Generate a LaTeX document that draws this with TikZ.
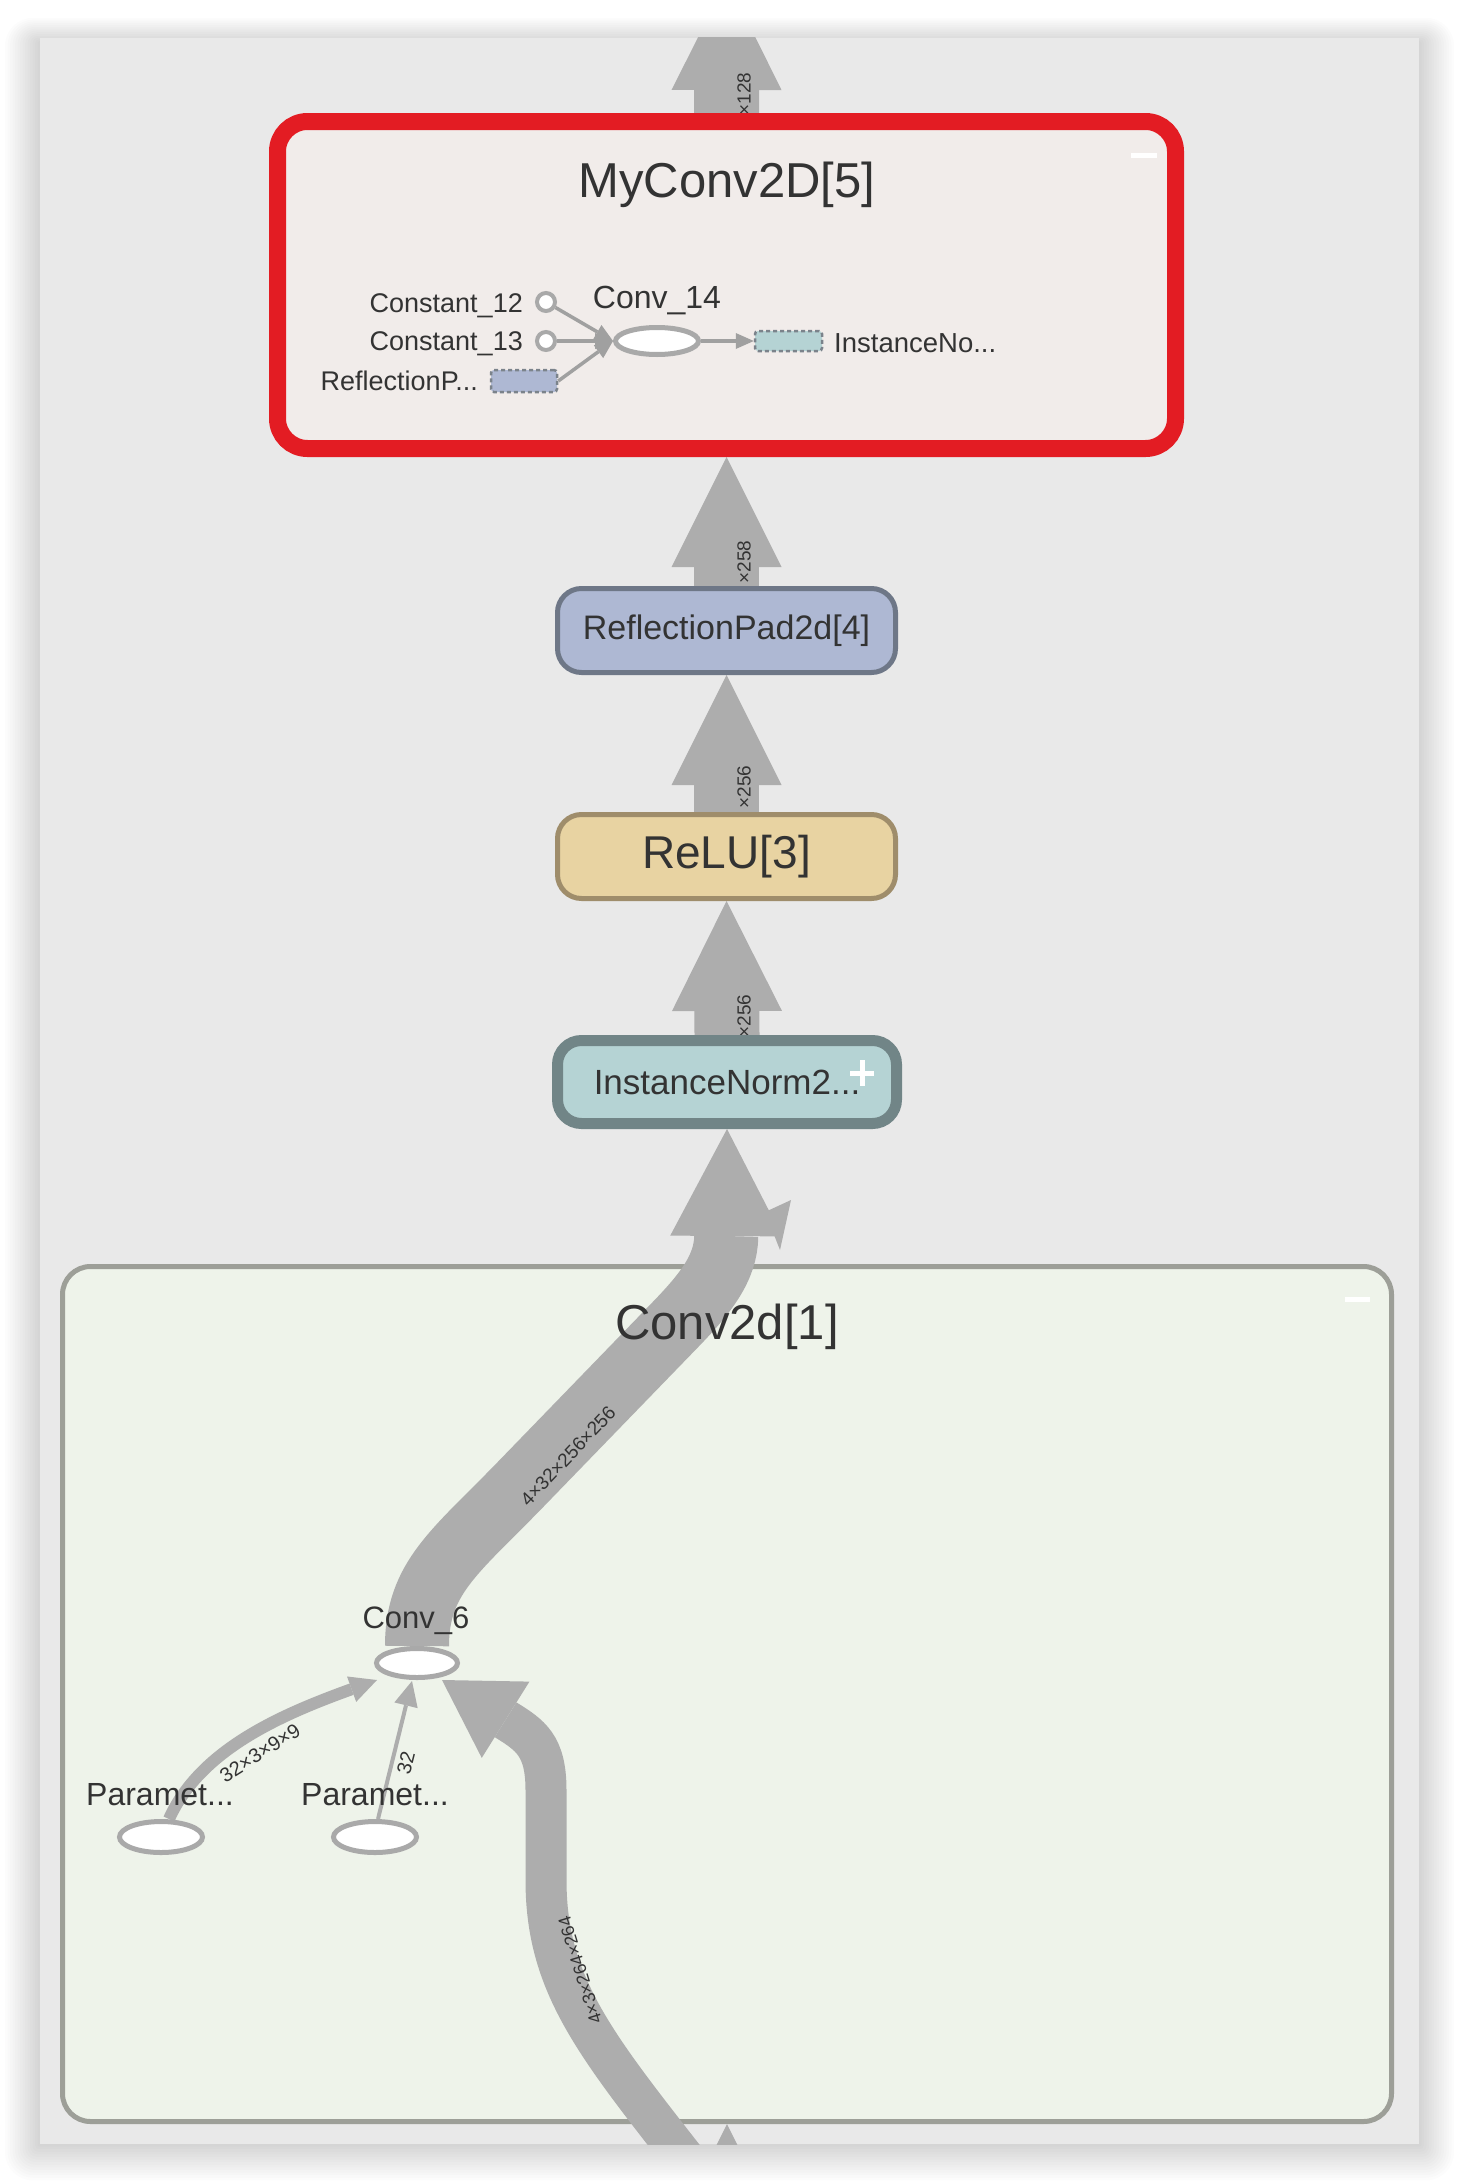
\documentclass[tikz,border=0pt]{standalone}
\usepackage{fontspec}
\setmainfont{Liberation Sans}
\usetikzlibrary{arrows.meta,shapes.geometric}
\pgfdeclarelayer{bg}
\pgfdeclarelayer{edges}
\pgfsetlayers{bg,edges,main}
\definecolor{panelc}{HTML}{E9E9E9}
\definecolor{edgec}{HTML}{ADADAD}
\definecolor{txtc}{HTML}{333333}
\definecolor{redc}{HTML}{E31C23}
\definecolor{myf}{HTML}{F1ECEA}
\definecolor{reflf}{HTML}{AEB8D3}
\definecolor{reflb}{HTML}{6E7787}
\definecolor{reluf}{HTML}{E8D3A2}
\definecolor{relub}{HTML}{9F8D6B}
\definecolor{inf}{HTML}{B5D3D4}
\definecolor{inb}{HTML}{718587}
\definecolor{convf}{HTML}{EEF3EA}
\definecolor{convb}{HTML}{9D9F98}
\definecolor{ellb}{HTML}{A9A9A9}
\definecolor{dashb}{HTML}{7B838B}
\definecolor{thinc}{HTML}{A0A0A0}
\tikzset{
  lab/.style={text=txtc, inner sep=0pt, font=\fontsize{#1}{#1}\selectfont},
  elab/.style={text=txtc, inner sep=0pt, font=\fontsize{#1}{#1}\selectfont},
  modbox/.style={rectangle, rounded corners=24pt, minimum width=338pt, minimum height=84pt, inner sep=0pt, line width=5pt, text=txtc},
  opnode/.style={ellipse, draw=ellb, fill=white, line width=5pt, inner sep=0pt},
  constnode/.style={circle, draw=ellb, fill=white, line width=4pt, minimum size=18pt, inner sep=0pt},
  dashnode/.style={rectangle, draw=dashb, line width=2.5pt, dash pattern=on 4pt off 3pt, minimum width=66pt, minimum height=22pt, inner sep=0pt, rounded corners=3pt},
  bigarrow/.style={draw=edgec, line width=65pt, -{Triangle[length=110pt,width=110pt,line width=0pt]}},
  conn/.style={draw=edgec, line width=#1},
  inconn/.style={draw=thinc, line width=3.5pt, -{Triangle[length=18pt,width=16pt,line width=0pt]}},
}
\begin{document}
\begin{tikzpicture}[x=1pt,y=-1pt]
\useasboundingbox (0,0) rectangle (1457,2184);
% ---------- background ----------
\begin{pgfonlayer}{bg}
  \fill[white] (0,0) rectangle (1457,2184);
  \foreach \i in {1,...,14} {
    \fill[black, opacity=0.010, rounded corners=2*\i pt] (40-2.5*\i, 38-1.8*\i+5) rectangle (1419+2.5*\i, 2144+2.6*\i);
  }
  \fill[panelc] (40,38) rectangle (1419,2144);
  \node[rectangle, draw=convb, fill=convf, line width=5pt, rounded corners=28pt,
        minimum width=1329pt, minimum height=855pt, inner sep=0pt] (cbox) at (727,1694) {};
\end{pgfonlayer}

% ---------- MyConv2D[5] ----------
\node[rectangle, draw=redc, fill=myf, line width=17pt, rounded corners=30pt,
      minimum width=898pt, minimum height=327pt, inner sep=0pt] (myconv) at (726.5,285) {};
\node[lab=49, anchor=base] (mytitle) at (727,197) {MyConv2D[5]};
\fill[white] (1131,153) rectangle (1157,158);

\node[constnode] (c12) at (546,302) {};
\node[constnode] (c13) at (546,341) {};
\node[dashnode, fill=reflf] (rp) at (524,381) {};
\node[opnode, minimum width=83pt, minimum height=27pt] (c14) at (657,341) {};
\node[dashnode, fill=inf, minimum width=67pt, minimum height=20pt] (inn) at (788.5,341) {};
\node[lab=27, anchor=base east] (c12l) at (523,312) {Constant\_12};
\node[lab=27, anchor=base east] (c13l) at (523,350) {Constant\_13};
\node[lab=27, anchor=base east] (rpl) at (478,390) {ReflectionP...};
\node[lab=32, anchor=base] (c14l) at (657,308) {Conv\_14};
\node[lab=27.5, anchor=base west] (innl) at (834,352) {InstanceNo...};
\draw[inconn] (c12) -- (c14.west);
\draw[inconn] (c13) -- (c14.west);
\draw[inconn] (rp.east) -- (c14.west);
\draw[inconn] (c14.east) -- (inn.west);

% ---------- chain nodes ----------
\node[modbox, draw=reflb, fill=reflf, font=\fontsize{34}{34}\selectfont] (refl) at (726.5,630.5) {ReflectionPad2d[4]};
\node[modbox, draw=relub, fill=reluf, font=\fontsize{46}{46}\selectfont] (relu) at (726.5,856.5) {ReLU[3]};
\node[modbox, draw=inb, fill=inf, line width=11pt, minimum width=339pt, minimum height=83pt, font=\fontsize{35}{35}\selectfont] (inorm) at (727,1082) {InstanceNorm2...};
\fill[white] (850,1070.5) rectangle (874,1075.5);
\fill[white] (859.5,1060) rectangle (864.5,1086);

% ---------- Conv2d[1] ----------
\node[lab=49, anchor=base] (ctitle) at (727,1339) {Conv2d[1]};
\fill[white] (1345,1297) rectangle (1370,1302);
\node[opnode, minimum width=81pt, minimum height=29pt] (c6) at (417,1663) {};
\node[opnode, minimum width=83pt, minimum height=31pt] (p1) at (161,1837) {};
\node[opnode, minimum width=83pt, minimum height=31pt] (p2) at (375,1837) {};
\node[lab=31, anchor=base] (c6l) at (416,1628) {Conv\_6};
\node[lab=32, anchor=base] (p1l) at (160,1805) {Paramet...};
\node[lab=32, anchor=base] (p2l) at (375,1805) {Paramet...};

\coordinate (topend) at (727,-20);
\coordinate (botstart) at (727,2300);
\coordinate (inbot) at (705,2185);
\coordinate (c6in) at (442,1680);
\coordinate (c6a) at (377,1680);
\coordinate (c6b) at (412,1681);

% ---------- edges ----------
\begin{pgfonlayer}{edges}
\begin{scope}
  \clip (40,38) rectangle (1419,2144);
  \draw[bigarrow] (myconv.north) -- (topend);
  \draw[bigarrow] (refl.north) -- (myconv.south);
  \draw[bigarrow] (relu.north) -- (refl.south);
  \draw[bigarrow] (inorm.north) -- (relu.south);
  \draw[bigarrow] (botstart) -- (cbox.south);
  \draw[conn=64pt, -{Triangle[length=107pt,width=112pt,line width=0pt]}]
    (c6.north) .. controls (417,1578) and (455,1552) .. (520,1485)
    -- (675,1325) .. controls (705,1294) and (726,1268) .. (inorm.south);
  \fill[edgec] (765,1212) -- (791,1200) -- (780,1250) -- cycle;
  \draw[conn=41pt, -{Triangle[length=75pt,width=90pt,line width=0pt]}]
    (inbot) .. controls (600,2050) and (546,1990) .. (546,1880)
    -- (546,1790) .. controls (546,1745) and (530,1735) .. (c6in);
  \draw[conn=12pt, -{Triangle[length=27pt,width=27pt,line width=0pt]}]
    ([xshift=8pt]p1.north) .. controls (200,1750) and (280,1715) .. (c6a);
  \draw[conn=4pt, -{Triangle[length=25pt,width=24pt,line width=0pt]}]
    ([xshift=3pt]p2.north) -- (c6b);
  \node[elab=19, rotate=90] (l128) at (744,94) {×128};
  \node[elab=19, rotate=90] (l258) at (744,562) {×258};
  \node[elab=19, rotate=90] (l256a) at (744,787) {×256};
  \node[elab=19, rotate=90] (l256b) at (744,1016) {×256};
  \node[elab=19, rotate=46.5] (lbig) at (568,1456) {4×32×256×256};
  \node[elab=18, rotate=107] (lin) at (580,1970) {4×3×264×264};
  \node[elab=20, rotate=32.4] (lw) at (260,1753) {32×3×9×9};
  \node[elab=20, rotate=76] (lb) at (406,1763) {32};
\end{scope}
\end{pgfonlayer}
\end{tikzpicture}
\end{document}
